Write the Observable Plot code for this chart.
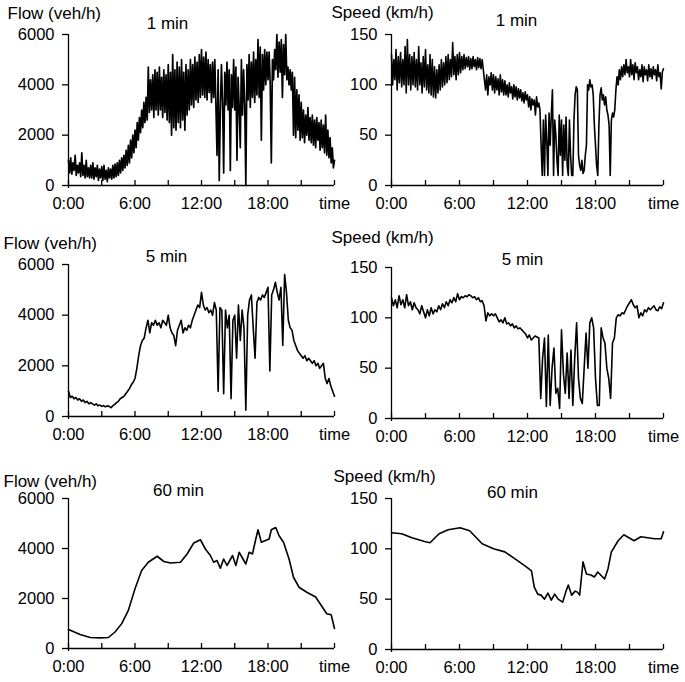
<!DOCTYPE html>
<html><head><meta charset="utf-8">
<script src="https://cdn.jsdelivr.net/npm/d3@7"></script>
<script src="https://cdn.jsdelivr.net/npm/@observablehq/plot@0.6"></script>
<style>
body{margin:0;background:#fff;}
#wrap{position:relative;width:685px;height:682px;}
#wrap svg{position:absolute;overflow:visible;}
</style></head><body><div id="wrap"></div>
<script>
const xTickHours=[0,3,6,9,12,15,18,21,24];
const xTickLabels=["0:00","","6:00","","12:00","","18:00","","time"];
const flowTicks=[0,2000,4000,6000];
const speedTicks=[0,50,100,150];
const flowLabel="Flow (veh/h)";
const speedLabel="Speed (km/h)";
const titles=["1 min","5 min","60 min"];

// 1-min aggregation, sampled every 0.1 h
const flow1Step=0.1;
const flow1=[
1000,500,1100,450,900,600,1200,400,800,500,
900,350,1300,400,800,300,1000,350,700,300,
800,300,900,250,700,350,800,200,650,300,
750,200,800,250,600,150,700,300,650,250,
800,300,850,350,900,400,1000,500,1100,600,
1200,700,1400,800,1600,900,1800,1100,2000,1300,
2200,1500,2500,1800,2700,2100,3000,2300,3300,2500,
3500,2600,4700,2900,4200,3000,4400,2700,4600,3000,
4500,2800,4700,3000,4300,2700,4600,2900,4400,2600,
4800,2500,4500,2000,5200,2300,4600,2200,4900,2500,
4700,2300,5000,2600,4500,2200,4800,2800,4600,3000,
5000,3200,4800,3100,5100,3400,4900,3300,5200,3500,
5400,3600,5100,3500,5300,3400,5000,3700,4800,3300,
4900,3500,5000,3200,1200,4600,200,3000,4800,3300,
500,4500,3200,4900,3000,4600,600,4400,3100,5000,
3000,4700,1000,4300,3100,1500,5000,2800,4600,3200,
0,4800,3400,5200,3100,4900,3500,5300,3300,5000,
3600,5800,3500,5500,1800,5200,3800,5400,4000,5300,
4200,5300,4000,900,5000,4200,5400,4600,6000,4300,
5700,4500,5800,3500,5600,4400,6000,4200,4700,4000,
4600,3800,4500,2000,4300,1900,3800,2200,3600,1800,
3300,1900,3000,1700,2800,2000,3100,1800,2700,1700,
2800,1600,2600,1500,2700,1800,2500,1400,2600,1500,
2400,1300,2800,1200,2200,1100,1900,900,1500,700,
1000];
const speed1=[
130,100,125,105,135,95,128,102,132,98,
125,100,138,92,145,100,130,95,128,100,
132,98,125,95,138,100,122,92,128,98,
135,95,120,92,130,90,125,88,118,87,
115,92,120,95,125,98,122,100,128,102,
130,105,125,108,142,110,128,105,130,110,
132,112,128,115,130,116,127,118,128,115,
126,116,128,118,125,115,127,117,126,116,
125,115,105,95,110,90,108,100,112,95,
110,92,108,95,106,90,110,93,105,90,
104,90,100,88,102,92,98,86,100,88,
98,85,96,87,95,84,92,82,93,85,
90,78,88,75,86,80,85,70,88,78,
82,75,40,10,65,10,70,45,10,72,
40,70,95,10,65,50,25,10,70,30,
65,10,60,25,68,20,10,65,30,10,
10,65,90,98,95,30,20,15,25,12,
15,30,40,100,95,105,98,100,90,60,
40,20,10,60,90,97,85,90,80,88,
75,70,60,10,65,72,68,75,95,108,
100,115,105,118,108,120,110,125,112,118,
108,125,110,120,105,122,112,118,105,115,
108,120,103,118,110,115,104,120,108,116,
106,118,110,115,104,120,108,112,96,113,
116];

// 5-min aggregation, sampled every 1/6 h
const flow5Step=1/6;
const flow5=[
1000,750,800,700,750,650,
700,600,650,550,600,500,
550,500,450,500,420,450,
400,430,380,420,400,350,
420,480,550,600,700,750,
800,900,1000,1100,1250,1350,
1500,1900,2400,2800,3000,3100,
3500,3800,3300,3700,3600,3800,
3600,3700,3500,3800,3700,3600,
4000,3500,3300,3200,2800,3400,
3600,3800,3300,3500,3400,3600,
3500,3800,4000,4200,4400,4300,
4900,4400,4200,4300,4100,4200,
4000,4500,4200,1000,4300,4200,
900,4200,3500,4000,700,3800,
4000,2300,4400,3000,4200,3500,
250,4000,4600,4800,3500,2300,
4500,4700,4600,4800,4700,4900,
5100,1800,4800,5000,5300,4900,
4600,5100,2800,5600,4900,3800,
3500,3400,3000,2800,2600,2500,
2400,2300,2400,2200,2300,2200,
2100,2200,2000,2100,1900,2000,
2100,1500,1300,1500,1200,1000,
800];
const speed5=[
120,112,118,110,122,113,
118,110,123,112,116,108,
115,110,108,104,112,106,
100,108,102,110,104,108,
106,112,108,114,110,116,
112,118,115,120,116,124,
118,121,120,122,121,123,
122,120,121,118,120,116,
117,112,97,105,102,104,
102,104,100,96,98,95,
100,94,95,92,94,90,
92,89,90,88,86,84,
80,83,78,80,82,81,
80,20,60,80,12,83,
13,50,70,25,30,10,
88,45,25,65,20,68,
13,60,95,40,20,15,
50,85,50,95,100,90,
40,13,13,90,80,75,
50,40,20,75,80,100,
103,102,105,104,108,112,
115,118,113,110,112,100,
105,102,108,106,110,108,
110,112,108,107,111,109,
115];

// 60-min aggregation
const flow60Hours=[0,1.05,1.96,2.9,3.6,4.2,4.8,5.4,6.0,6.6,7.2,8.0,8.6,9.2,10.1,10.7,11.3,11.9,12.35,12.8,13.1,13.4,13.7,14.0,14.3,14.8,15.1,15.4,16.0,16.3,16.6,16.9,17.1,17.4,18.1,18.3,18.7,19.0,19.4,19.9,20.3,20.8,21.5,22.3,22.9,23.3,23.7,24];
const flow60=[756,557,440,425,440,660,995,1525,2390,3120,3450,3690,3480,3420,3450,3780,4220,4350,3980,3720,3450,3520,3210,3580,3320,3720,3320,3850,3380,3850,3780,4380,4750,4250,4380,4750,4840,4510,4250,3580,2850,2450,2250,2060,1660,1390,1350,800];
const speed60Hours=[0,0.9,1.8,3.0,3.4,4.2,5.0,6.05,6.9,8.0,9.0,10.0,10.9,11.9,12.35,12.6,12.9,13.2,13.5,13.8,14.1,14.4,14.7,15.1,15.4,15.6,15.9,16.2,16.4,16.6,16.9,17.2,17.6,17.9,18.2,18.8,19.1,19.4,20.0,20.5,21.4,22.0,23.2,23.8,24];
const speed60=[116,115,111,107,106,115,119,121,118,105,100,97,90,82,78,62,55,54,50,56,49,55,50,47,58,64,54,58,57,54,87,75,74,72,77,70,80,97,108,114,108,112,110,110,117];

const uniform=(vals,step)=>vals.map((v,i)=>({h:i*step,v}));
const paired=(hs,vals)=>hs.map((h,i)=>({h,v:vals[i]}));
const labelMap=new Map(xTickHours.map((h,i)=>[h,xTickLabels[i]]));

const L={left:0,width:345,mL:68,mR:11};
const R={left:320,width:365,mL:71,mR:22};
const panels=[
 {col:L,data:uniform(flow1,flow1Step),ymax:6000,ticks:flowTicks,label:flowLabel,title:titles[0],ft:34,fb:185,lx:-61,ly:-16,tx:-34,ty:-6,sw:1.7},
 {col:R,data:uniform(speed1,flow1Step),ymax:150,ticks:speedTicks,label:speedLabel,title:titles[0],ft:34,fb:185,lx:-60,ly:-17,tx:-11,ty:-9,sw:1.6},
 {col:L,data:uniform(flow5,flow5Step),ymax:6000,ticks:flowTicks,label:flowLabel,title:titles[1],ft:264,fb:416,lx:-65,ly:-16,tx:-35,ty:-3,sw:1.6},
 {col:R,data:uniform(speed5,flow5Step),ymax:150,ticks:speedTicks,label:speedLabel,title:titles[1],ft:267,fb:418,lx:-60,ly:-25,tx:-5,ty:-3,sw:1.6},
 {col:L,data:paired(flow60Hours,flow60),ymax:6000,ticks:flowTicks,label:flowLabel,title:titles[2],ft:498,fb:648,lx:-65,ly:-12,tx:-23,ty:-3,sw:1.6},
 {col:R,data:paired(speed60Hours,speed60),ymax:150,ticks:speedTicks,label:speedLabel,title:titles[2],ft:498,fb:649,lx:-58,ly:-17,tx:-15,ty:-1,sw:1.6}
];
const wrap=document.getElementById("wrap");
for(const p of panels){
  const mT=40,mB=32;
  const svg=Plot.plot({
    width:p.col.width,height:mT+(p.fb-p.ft)+mB,
    marginLeft:p.col.mL,marginRight:p.col.mR,marginTop:mT,marginBottom:mB,
    style:{fontFamily:"'Liberation Sans',Arial,sans-serif",fontSize:"16.5px",color:"#000",background:"transparent",overflow:"visible"},
    x:{type:"linear",domain:[0,24]},
    y:{domain:[0,p.ymax]},
    marks:[
      Plot.line(p.data,{x:"h",y:"v",stroke:"#000",strokeWidth:p.sw,strokeLinejoin:"round"}),
      Plot.ruleX([0],{stroke:"#000",strokeWidth:1.3,insetBottom:-3}),
      Plot.ruleY([0],{stroke:"#000",strokeWidth:1.3}),
      Plot.axisY({ticks:p.ticks,tickFormat:d=>String(d),tickSize:6,tickPadding:8,label:null,strokeWidth:1.3}),
      Plot.axisX({ticks:xTickHours,tickFormat:d=>labelMap.get(d),tickSize:-5,tickPadding:17,label:null,strokeWidth:1.3}),
      Plot.text([p.label],{text:d=>d,frameAnchor:"top-left",dx:p.lx,dy:p.ly,textAnchor:"start",lineAnchor:"bottom",fontSize:17,fill:"#000"}),
      Plot.text([p.title],{text:d=>d,frameAnchor:"top",dx:p.tx,dy:p.ty,textAnchor:"middle",lineAnchor:"bottom",fontSize:17,fill:"#000"})
    ]
  });
  svg.style.left=p.col.left+"px";
  svg.style.top=(p.ft-mT)+"px";
  wrap.appendChild(svg);
}
</script></body></html>
